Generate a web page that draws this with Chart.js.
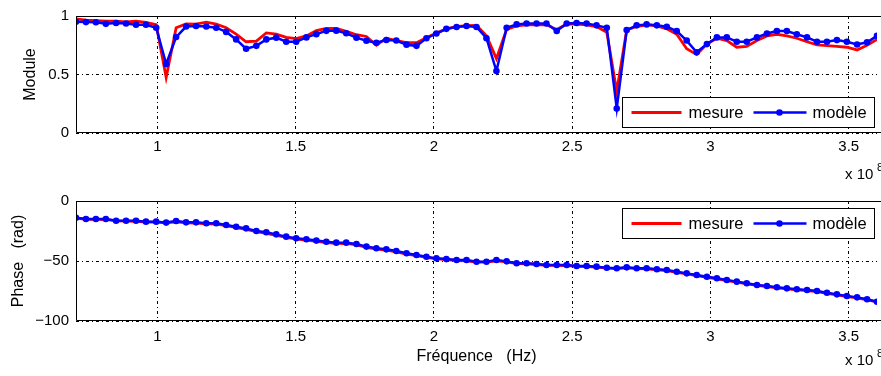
<!DOCTYPE html>
<html><head><meta charset="utf-8">
<script src="https://cdn.jsdelivr.net/npm/chart.js@4.4.1/dist/chart.umd.min.js"></script>
<style>
html,body{margin:0;padding:0;background:#fff;overflow:hidden;}
#c1{position:absolute;left:0;top:0;}
#c2{position:absolute;left:0;top:185px;}
</style></head><body>
<canvas id="c1" width="881" height="185" style="width:881px;height:185px"></canvas>
<canvas id="c2" width="881" height="191" style="width:881px;height:191px"></canvas>
<script>
// Frequencies in units of 1e8 Hz
const freq = [
0.706,0.742,0.778,0.814,0.851,0.887,0.923,0.959,0.996,1.032,
1.068,1.104,1.140,1.177,1.213,1.249,1.285,1.321,1.358,1.394,
1.430,1.466,1.502,1.539,1.575,1.611,1.647,1.683,1.720,1.756,
1.792,1.828,1.864,1.901,1.937,1.973,2.009,2.045,2.082,2.118,
2.154,2.190,2.226,2.263,2.299,2.335,2.371,2.407,2.444,2.480,
2.516,2.552,2.588,2.625,2.661,2.697,2.733,2.769,2.806,2.842,
2.878,2.914,2.950,2.987,3.023,3.059,3.095,3.131,3.168,3.204,
3.240,3.276,3.312,3.349,3.385,3.421,3.457,3.493,3.530,3.566,
3.602];
const moduleMesure = [
0.975,0.965,0.96,0.955,0.955,0.95,0.955,0.945,0.925,0.475,
0.90,0.933,0.93,0.948,0.93,0.90,0.845,0.78,0.786,0.855,
0.845,0.817,0.806,0.83,0.875,0.895,0.895,0.87,0.84,0.825,
0.75,0.81,0.79,0.772,0.772,0.814,0.855,0.89,0.91,0.918,
0.92,0.83,0.636,0.886,0.915,0.925,0.925,0.925,0.885,0.93,
0.93,0.925,0.91,0.86,0.358,0.88,0.91,0.925,0.915,0.89,
0.844,0.72,0.67,0.76,0.81,0.79,0.733,0.74,0.79,0.83,
0.844,0.83,0.81,0.78,0.753,0.747,0.74,0.733,0.71,0.75,
0.80];
const moduleModele = [
0.95,0.948,0.946,0.933,0.94,0.936,0.925,0.925,0.90,0.59,
0.82,0.91,0.914,0.91,0.90,0.864,0.80,0.72,0.745,0.80,
0.815,0.78,0.78,0.817,0.845,0.873,0.875,0.852,0.815,0.788,
0.772,0.795,0.79,0.755,0.745,0.81,0.85,0.89,0.906,0.914,
0.906,0.81,0.53,0.90,0.928,0.936,0.936,0.936,0.872,0.936,
0.94,0.936,0.92,0.90,0.21,0.88,0.92,0.928,0.92,0.908,
0.872,0.79,0.69,0.76,0.817,0.817,0.78,0.78,0.817,0.85,
0.872,0.872,0.844,0.817,0.78,0.78,0.794,0.78,0.756,0.775,
0.83];
const phaseMesure = [
-14.2,-15.2,-15.3,-15.4,-16.6,-16.8,-16.9,-17.5,-17.6,-18.3,
-17.3,-18.2,-18.4,-19.0,-19.3,-20.6,-22.1,-23.6,-25.6,-26.9,
-28.6,-30.4,-31.7,-32.6,-33.6,-34.6,-35.3,-35.4,-36.6,-38.7,
-40.0,-41.0,-42.4,-44.2,-45.6,-47.0,-48.3,-48.9,-49.6,-49.8,
-50.9,-51.0,-49.8,-50.8,-52.2,-52.3,-52.9,-53.6,-53.7,-53.8,
-54.5,-54.7,-55.1,-55.9,-56.4,-55.8,-56.4,-56.6,-57.3,-58.0,
-59.4,-60.8,-62.2,-63.6,-64.9,-66.3,-67.7,-69.1,-70.4,-71.3,
-72.4,-73.3,-74.1,-74.7,-75.5,-76.9,-78.3,-79.6,-80.7,-82.3,
-84.2];
const phaseModele = [
-13.9,-15,-15,-15,-16.4,-16.4,-16.4,-17.2,-17.2,-18,
-16.7,-17.8,-17.8,-18.6,-18.6,-20,-21.4,-22.8,-25,-26.1,
-27.8,-29.7,-31.1,-31.9,-33,-33.9,-34.7,-34.7,-35.8,-38,
-39.4,-40.3,-41.7,-43.6,-45,-46.4,-47.8,-48.4,-49.2,-49.2,
-50.6,-50.6,-49.2,-50.3,-51.9,-51.9,-52.5,-53.3,-53.3,-53.3,
-54.2,-54.2,-54.7,-55.6,-56.1,-55.3,-56.1,-56.1,-56.9,-57.5,
-58.9,-60.3,-61.7,-63.1,-64.4,-65.8,-67.2,-68.6,-70,-70.8,
-71.9,-72.8,-73.6,-74.2,-75,-76.4,-77.8,-79.2,-80.3,-81.9,
-83.9];
const xTicks = [1, 1.5, 2, 2.5, 3, 3.5];
const moduleTicks = [0, 0.5, 1];
const phaseTicks = [-100, -50, 0];
const seriesNames = ['mesure', 'modèle'];
const xRange = [0.706, 3.602];

const FONT = "'Liberation Sans', Arial, Helvetica, sans-serif";
const RED = '#ff0000', BLUE = '#0000ff';
const DASH = [3, 3, 1, 3];

function fmt(v) {
  const s = String(Math.abs(v));
  return v < 0 ? '\u2212' + s : s;
}
function pts(ys) { return freq.map((x, i) => ({x: x, y: ys[i]})); }

function decoPlugin(legendAtTop, legendGap) {
  return {
    id: 'deco',
    afterDraw(chart) {
      const ctx = chart.ctx, a = chart.chartArea;
      ctx.save();
      ctx.strokeStyle = '#000'; ctx.lineWidth = 1; ctx.setLineDash([]);
      const L = Math.round(a.left) + 0.5, T = Math.round(a.top) + 0.5, B = Math.round(a.bottom) - 0.5;
      ctx.beginPath();
      ctx.moveTo(chart.width, T); ctx.lineTo(L, T); ctx.lineTo(L, B); ctx.lineTo(chart.width, B);
      ctx.stroke();
      const w = 252, h = 30;
      const bx = Math.round(a.right - 3 - w) + 0.5;
      const by = Math.round(legendAtTop ? a.top + legendGap : a.bottom - legendGap - h) + 0.5;
      ctx.fillStyle = '#fff';
      ctx.fillRect(bx, by, w, h);
      ctx.strokeRect(bx, by, w, h);
      const cy = by + h / 2;
      ctx.lineWidth = 2.8; ctx.strokeStyle = RED;
      ctx.beginPath(); ctx.moveTo(bx + 9, cy); ctx.lineTo(bx + 59, cy); ctx.stroke();
      ctx.lineWidth = 2.5; ctx.strokeStyle = BLUE;
      ctx.beginPath(); ctx.moveTo(bx + 131, cy); ctx.lineTo(bx + 184, cy); ctx.stroke();
      ctx.fillStyle = BLUE;
      ctx.beginPath(); ctx.arc(bx + 157, cy, 3.3, 0, Math.PI * 2); ctx.fill();
      ctx.fillStyle = '#000';
      ctx.font = '16.5px ' + FONT;
      ctx.textBaseline = 'middle'; ctx.textAlign = 'left';
      ctx.fillText(seriesNames[0], bx + 66, cy + 1);
      ctx.fillText(seriesNames[1], bx + 190, cy + 1);
      const my = chart.height - (chart.canvas.id === 'c1' ? 10 : 15);
      ctx.font = '15px ' + FONT;
      ctx.fillText('x 10', 845, my);
      ctx.font = '11px ' + FONT;
      ctx.fillText('8', 877, my - 7);
      ctx.restore();
    }
  };
}

function makeChart(id, yMesure, yModele, yMin, yMax, yTickVals, yTitle, yTitlePad, topPad, xHeight, xTickPad, xTitle, legendAtTop, legendGap) {
  return new Chart(document.getElementById(id), {
    type: 'line',
    data: {
      datasets: [
        {label: seriesNames[0], data: pts(yMesure), borderColor: RED, backgroundColor: RED,
         borderWidth: 2.8, pointRadius: 0, tension: 0, order: 1},
        {label: seriesNames[1], data: pts(yModele), borderColor: BLUE, backgroundColor: BLUE,
         borderWidth: 2.5, pointRadius: 3.3, pointBorderWidth: 0, pointStyle: 'circle', tension: 0, order: 0}
      ]
    },
    options: {
      responsive: false, animation: false, devicePixelRatio: 1,
      layout: {padding: {top: topPad, left: 0, right: 0, bottom: 0}},
      plugins: {legend: {display: false}, tooltip: {enabled: false}},
      scales: {
        x: {
          type: 'linear', min: xRange[0], max: xRange[1],
          afterBuildTicks: s => { s.ticks = xTicks.map(v => ({value: v})); },
          afterFit: s => { s.height = xHeight; },
          ticks: {color: '#000', font: {family: FONT, size: 15}, padding: xTickPad, maxRotation: 0, autoSkip: false,
                  callback: v => fmt(v)},
          grid: {color: '#000', lineWidth: 1, drawTicks: false},
          border: {display: false, dash: DASH},
          title: {display: !!xTitle, text: xTitle || '', color: '#000', font: {family: FONT, size: 16}, padding: {top: 0, bottom: 10}}
        },
        y: {
          type: 'linear', min: yMin, max: yMax,
          afterBuildTicks: s => { s.ticks = yTickVals.map(v => ({value: v})); },
          afterFit: s => { s.width = 76; },
          ticks: {color: '#000', font: {family: FONT, size: 15}, padding: 7, autoSkip: false,
                  callback: v => fmt(v)},
          grid: {color: '#000', lineWidth: 1, drawTicks: false},
          border: {display: false, dash: DASH},
          title: {display: true, text: yTitle, color: '#000', font: {family: FONT, size: 16, lineHeight: 1}, padding: {top: yTitlePad, bottom: 0}}
        }
      }
    },
    plugins: [decoPlugin(legendAtTop, legendGap)]
  });
}

makeChart('c1', moduleMesure, moduleModele, 0, 1, moduleTicks, 'Module', 23, 13, 52, 5, null, false, 6);
makeChart('c2', phaseMesure, phaseModele, -100, 0, phaseTicks, 'Phase   (rad)', 11, 16, 55, 7, 'Fréquence   (Hz)', true, 7);
</script>
</body></html>
